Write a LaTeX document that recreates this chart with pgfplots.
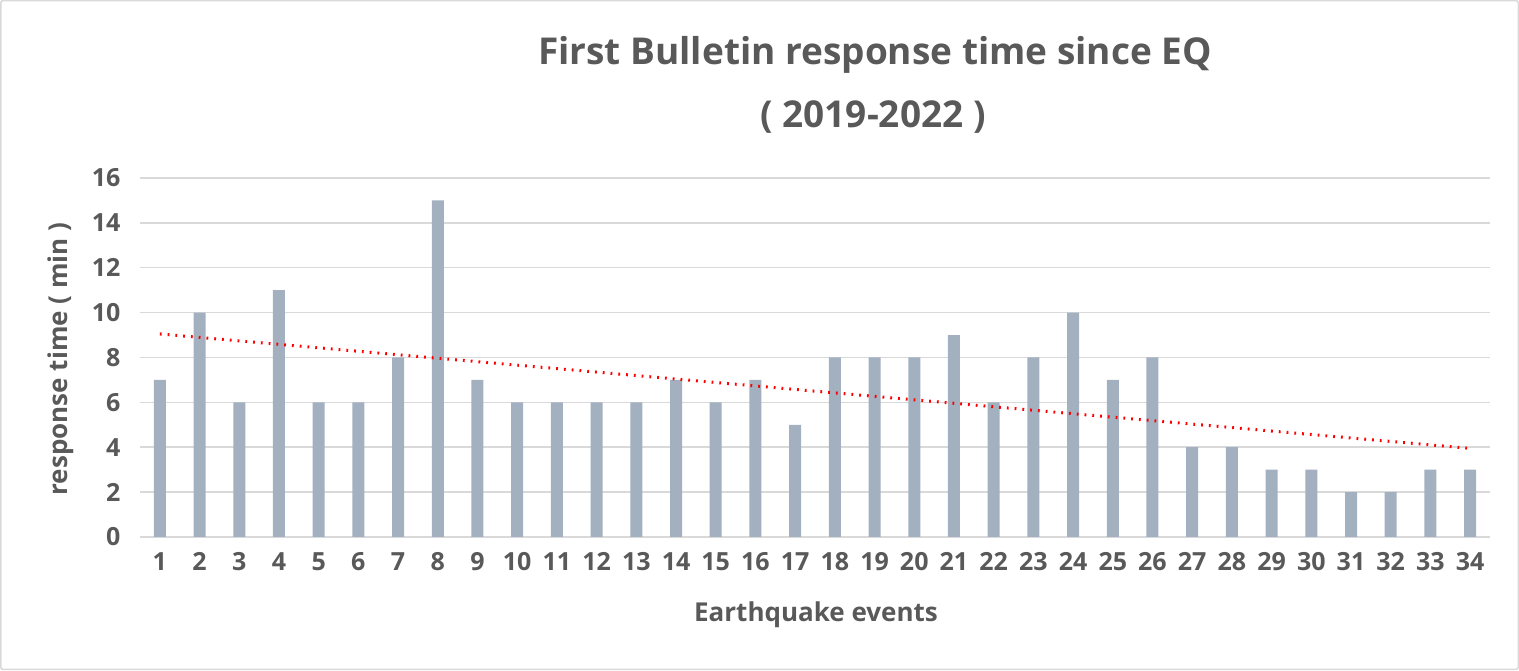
\documentclass[border=0pt]{standalone}
\usepackage{pgfplots}
\pgfplotsset{compat=1.18}
\usepackage{fontspec}
\setmainfont{Open Sans}
\definecolor{txt}{HTML}{595959}
\definecolor{barc}{HTML}{A2B0C0}
\definecolor{gridc}{HTML}{D9D9D9}
\begin{document}
\begin{tikzpicture}
\draw[gridc,line width=1.5pt,rounded corners=2pt] (0.75pt,0.75pt) rectangle (1518.25pt,669.25pt);
\node[txt,font=\fontsize{37}{44}\selectfont\bfseries] at (875pt,615pt) {First Bulletin response time since EQ};
\node[txt,font=\fontsize{37}{44}\selectfont\bfseries] at (873pt,553pt) {( 2019-2022 )};
\begin{axis}[
  at={(140pt,133pt)}, anchor=south west,
  scale only axis, width=1350pt, height=359pt,
  xmin=0.5, xmax=34.5, ymin=0, ymax=16,
  ytick={0,2,...,16}, xtick={1,...,34},
  axis x line*=bottom, axis y line*=left,
  x axis line style={gridc,line width=1.5pt,-},
  y axis line style={draw=none,-},
  ymajorgrids, grid style={gridc,line width=1.5pt},
  major tick length=0pt,
  tick label style={txt,font=\fontsize{25}{30}\selectfont\bfseries},
  /pgf/number format/assume math mode=true,
  yticklabel style={xshift=-16pt},
  xticklabel style={yshift=-12pt},
  ybar, bar width=12pt,
  clip=false,
]
\addplot[fill=barc,draw=none] coordinates {
(1,7)(2,10)(3,6)(4,11)(5,6)(6,6)(7,8)(8,15)(9,7)(10,6)
(11,6)(12,6)(13,6)(14,7)(15,6)(16,7)(17,5)(18,8)(19,8)(20,8)
(21,9)(22,6)(23,8)(24,10)(25,7)(26,8)(27,4)(28,4)(29,3)(30,3)
(31,2)(32,2)(33,3)(34,3)};
\addplot[sharp plot,red,line width=3pt,dash pattern=on 1.8pt off 6pt] coordinates {(1,9.05)(34,3.95)};
\end{axis}
\node[txt,font=\fontsize{26}{30}\selectfont\bfseries,rotate=90] at (61pt,311pt) {response time ( min )};
\node[txt,font=\fontsize{26}{30}\selectfont\bfseries] at (816pt,55pt) {Earthquake events};
\end{tikzpicture}
\end{document}
